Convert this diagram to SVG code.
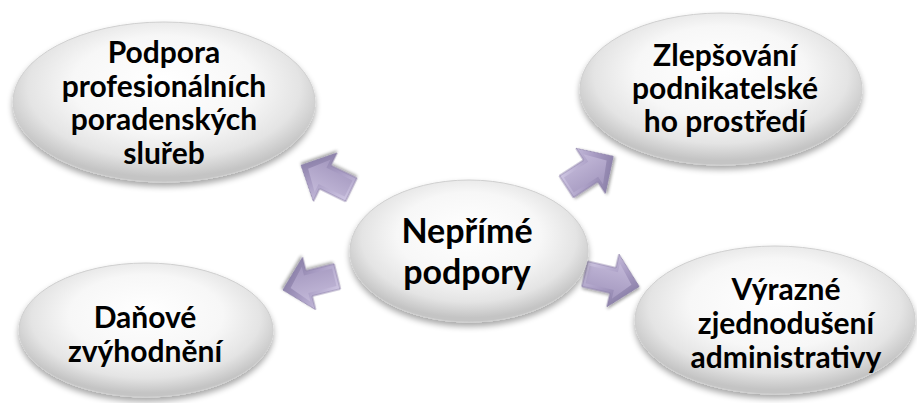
<svg xmlns="http://www.w3.org/2000/svg" width="917" height="403" viewBox="0 0 917 403">
<style>
.node-shape{fill:url(#ellGrad);stroke:#cfcfcf;stroke-width:1;filter:url(#shadow)}
.lbl{font-family:Lato,"Open Sans","Liberation Sans",sans-serif;font-weight:bold;font-size:30px;fill:#000;text-anchor:middle}
.big{font-size:34px}
.arrow-outer{fill:url(#arrGrad);stroke:#8a7fa6;stroke-width:0.8;filter:url(#ashadow)}
.arrow-inner{fill:url(#arrInner)}
</style>
<defs>
<radialGradient id="ellGrad" cx="50%" cy="42%" r="55%" fx="50%" fy="35%">
<stop offset="0" stop-color="#ffffff"/>
<stop offset="0.55" stop-color="#f7f7f7"/>
<stop offset="0.82" stop-color="#e4e4e4"/>
<stop offset="1" stop-color="#c4c4c4"/>
</radialGradient>
<linearGradient id="arrGrad" x1="0" y1="0" x2="1" y2="1">
<stop offset="0" stop-color="#ddd6ee"/>
<stop offset="0.5" stop-color="#a99dc4"/>
<stop offset="1" stop-color="#766b95"/>
</linearGradient>
<linearGradient id="arrInner" x1="0" y1="0" x2="0" y2="1">
<stop offset="0" stop-color="#c2b8d8"/>
<stop offset="1" stop-color="#a498bf"/>
</linearGradient>
<filter id="shadow" x="-10%" y="-10%" width="120%" height="130%">
<feGaussianBlur in="SourceAlpha" stdDeviation="3"/>
<feOffset dx="0" dy="4" result="b"/>
<feComponentTransfer><feFuncA type="linear" slope="0.35"/></feComponentTransfer>
<feMerge><feMergeNode/><feMergeNode in="SourceGraphic"/></feMerge>
</filter>
<filter id="ashadow" x="-20%" y="-20%" width="150%" height="150%">
<feGaussianBlur in="SourceAlpha" stdDeviation="1.5"/>
<feOffset dx="1" dy="2"/>
<feComponentTransfer><feFuncA type="linear" slope="0.35"/></feComponentTransfer>
<feMerge><feMergeNode/><feMergeNode in="SourceGraphic"/></feMerge>
</filter>
<g id="blockArrow">
<polygon class="arrow-outer" points="-27,-13 2,-13 2,-27 29,0 2,27 2,13 -27,13"/>
<polygon class="arrow-inner" points="-24,-9 5,-9 5,-18 21,0 5,18 5,9 -24,9"/>
</g>
</defs>

<g id="connectors">
<use href="#blockArrow" transform="translate(327,178) rotate(206)"/>
<use href="#blockArrow" transform="translate(589,172) rotate(-33)"/>
<use href="#blockArrow" transform="translate(311,283) rotate(166)"/>
<use href="#blockArrow" transform="translate(611,280) rotate(13)"/>
</g>

<g id="node-center">
<ellipse class="node-shape" cx="469" cy="251" rx="119" ry="71"/>
<text class="lbl big" x="467" y="243">Nepřímé</text>
<text class="lbl big" x="467" y="284">podpory</text>
</g>

<g id="node-top-left">
<ellipse class="node-shape" cx="164" cy="102" rx="151" ry="80"/>
<text class="lbl" x="164" y="63">Podpora</text>
<text class="lbl" x="164" y="97">profesionálních</text>
<text class="lbl" x="164" y="130">poradenských</text>
<text class="lbl" x="164" y="164">sluřeb</text>
</g>

<g id="node-top-right">
<ellipse class="node-shape" cx="721" cy="89" rx="141" ry="76"/>
<text class="lbl" x="725" y="66">Zlepšování</text>
<text class="lbl" x="725" y="99">podnikatelské</text>
<text class="lbl" x="725" y="132">ho prostředí</text>
</g>

<g id="node-bottom-left">
<ellipse class="node-shape" cx="146" cy="330" rx="127" ry="67"/>
<text class="lbl" x="145" y="328">Daňové</text>
<text class="lbl" x="145" y="362">zvýhodnění</text>
</g>

<g id="node-bottom-right">
<ellipse class="node-shape" cx="775" cy="320" rx="140" ry="74"/>
<text class="lbl" x="786" y="300">Výrazné</text>
<text class="lbl" x="786" y="334">zjednodušení</text>
<text class="lbl" x="786" y="368">administrativy</text>
</g>
</svg>
